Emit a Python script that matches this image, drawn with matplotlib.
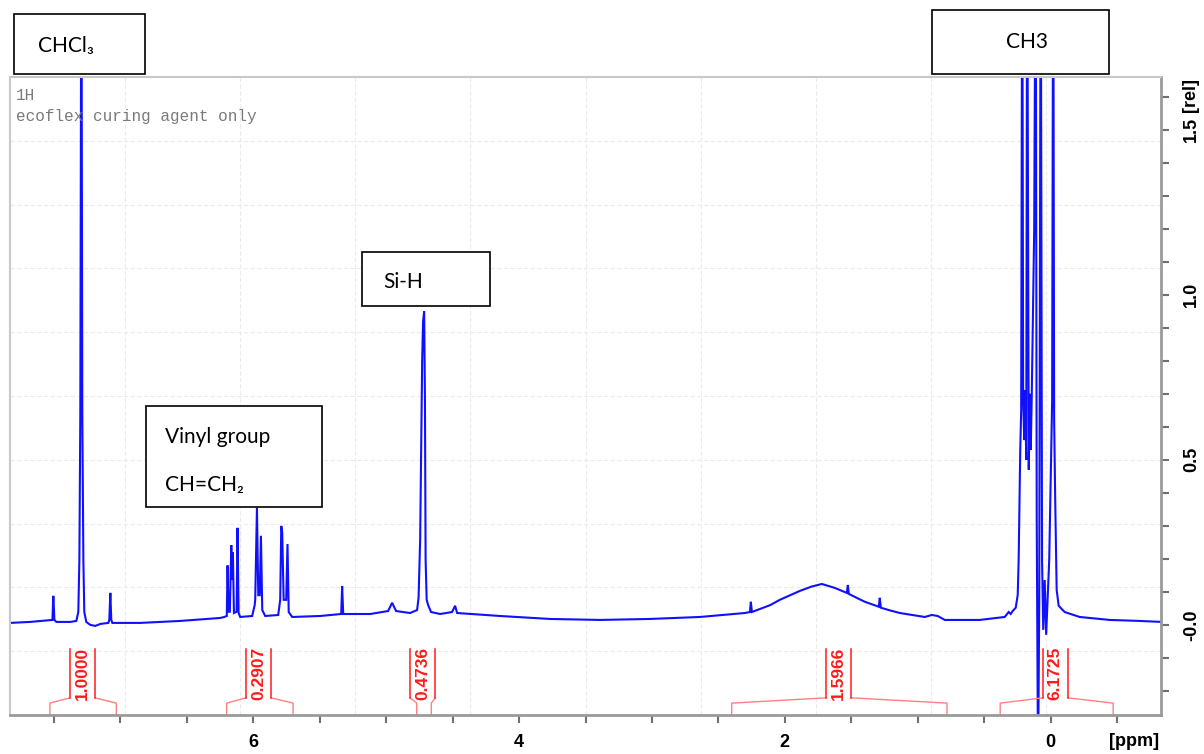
import matplotlib.pyplot as plt
from matplotlib.patches import Rectangle
from matplotlib.ticker import MultipleLocator, FixedLocator

# 1H spectrum trace (ppm / relative intensity)
ppm = [7.83, 7.68, 7.511, 7.504, 7.496, 7.481, 7.376, 7.331, 7.316, 7.308, 7.301,
       7.293, 7.286, 7.278, 7.271, 7.256, 7.226, 7.188, 7.150, 7.090, 7.083, 7.075,
       7.068, 7.060, 6.850, 6.549, 6.248,
       6.218, 6.199, 6.193, 6.186, 6.176, 6.165, 6.159, 6.153, 6.145, 6.125, 6.118,
       6.110, 6.098, 6.008, 5.989, 5.985, 5.972, 5.962, 5.951, 5.942, 5.932, 5.910,
       5.812, 5.797, 5.789, 5.782, 5.771, 5.752, 5.742, 5.733, 5.707,
       5.496, 5.338, 5.331, 5.323, 5.120, 4.985, 4.955, 4.925, 4.820,
       4.767, 4.756, 4.744, 4.737, 4.729, 4.722, 4.714, 4.708, 4.703, 4.695, 4.684,
       4.662, 4.594, 4.504, 4.481, 4.466, 4.143, 3.767, 3.391, 3.015, 2.639,
       2.301, 2.263, 2.256, 2.248, 2.188, 2.110, 2.038, 1.960, 1.887, 1.800, 1.722,
       1.624, 1.534, 1.526, 1.519, 1.460, 1.398, 1.293, 1.286, 1.278, 1.210, 1.135,
       0.947, 0.895, 0.850, 0.797, 0.534,
       0.346, 0.316, 0.301, 0.286, 0.263, 0.248, 0.241, 0.229, 0.222, 0.214, 0.207,
       0.199, 0.192, 0.184, 0.177, 0.165, 0.158, 0.150, 0.143, 0.132, 0.124, 0.113,
       0.105, 0.095, 0.086, 0.075, 0.065, 0.056, 0.045, 0.034, 0.023, 0.011, 0.000,
       -0.011, -0.019, -0.026, -0.034, -0.045, -0.060, -0.105, -0.218, -0.444,
       -0.669, -0.835]
intensity = [0.006, 0.009, 0.015, 0.088, 0.015, 0.009, 0.009, 0.012, 0.039, 0.197, 0.636,
             2.2, 0.636, 0.197, 0.039, 0.009, 0.000, -0.003, 0.003, 0.006, 0.015, 0.097,
             0.015, 0.006, 0.006, 0.012, 0.021,
             0.024, 0.027, 0.180, 0.040, 0.040, 0.242, 0.136, 0.220, 0.036, 0.040, 0.294,
             0.036, 0.024, 0.027, 0.060, 0.076, 0.355, 0.090, 0.090, 0.270, 0.045, 0.027,
             0.030, 0.076, 0.300, 0.280, 0.076, 0.076, 0.245, 0.039, 0.024,
             0.027, 0.033, 0.118, 0.033, 0.033, 0.042, 0.067, 0.042, 0.036,
             0.045, 0.082, 0.258, 0.515, 0.800, 0.920, 0.950, 0.680, 0.197, 0.076, 0.060,
             0.039, 0.033, 0.039, 0.058, 0.036, 0.027, 0.018, 0.015, 0.018, 0.024,
             0.036, 0.039, 0.070, 0.039, 0.048, 0.060, 0.076, 0.090, 0.103, 0.116, 0.124,
             0.112, 0.097, 0.121, 0.094, 0.082, 0.070, 0.055, 0.082, 0.052, 0.044, 0.036,
             0.024, 0.030, 0.027, 0.015, 0.015,
             0.024, 0.039, 0.033, 0.042, 0.052, 0.091, 0.197, 0.530, 0.650, 2.2, 0.680,
             0.560, 0.710, 0.500, 2.2, 0.470, 0.700, 0.530, 0.680, 0.980, 1.200, 2.2,
             0.320, -0.45, 0.076, 2.2, 0.197, -0.015, 0.136, -0.030, 0.076, 0.197, 0.440,
             0.680, 2.2, 0.620, 0.380, 0.106, 0.058, 0.039, 0.024, 0.015,
             0.012, 0.009]

# integrals: left / right limit, label centre, value
int_left = [7.53, 6.20, 4.77, 2.40, 0.38]
int_right = [7.03, 5.70, 4.66, 0.78, -0.47]
int_center = [7.285, 5.96, 4.725, 1.595, -0.035]
int_values = ["1.0000", "0.2907", "0.4736", "1.5966", "6.1725"]

xticks = [0, 2, 4, 6]
yticks = [0.0, 0.5, 1.0, 1.5]
ytick_labels = ["-0.0", "0.5", "1.0", "1.5"]

# assignment boxes (text, box in figure pixels left, top, right, bottom)
box_texts = ["CHCl\u2083", "CH3", "Si-H", "Vinyl group\n\nCH=CH\u2082"]
box_px = [(14, 14, 145, 74), (932, 10, 1109, 74), (362, 252, 490, 306), (146, 406, 322, 507)]
text_px = [(38, 46), (1006, 42), (383, 282), (165, 461)]

W, H = 1204, 754
blue = '#1010ff'
red = '#ff1a1a'

fig = plt.figure(figsize=(12.04, 7.54), dpi=100)
ax = fig.add_axes([10 / W, 1 - 715 / H, 1151 / W, 638 / H])

ax.plot(ppm, intensity, color=blue, lw=1.5, solid_joinstyle='miter')

ax.set_xlim(7.83, -0.83)
ax.set_ylim(-0.273, 1.66)

# 10 x 10 background grid (not tied to the ticks)
for k in range(1, 10):
    ax.plot([k / 10, k / 10], [0, 1], transform=ax.transAxes, color='#ebebeb',
            lw=0.8, ls=(0, (4, 2)), zorder=0)
    ax.plot([0, 1], [k / 10, k / 10], transform=ax.transAxes, color='#ebebeb',
            lw=0.8, ls=(0, (4, 2)), zorder=0)

# integral brackets
y_bot, y_foot, y_boxb, y_boxt = -0.273, -0.237, -0.221, -0.073
hw = 0.095
for lft, rgt, c, val in zip(int_left, int_right, int_center, int_values):
    ax.plot([lft, lft, c + hw], [y_bot, y_foot, y_boxb], color='#ff8080', lw=1.0)
    ax.plot([rgt, rgt, c - hw], [y_bot, y_foot, y_boxb], color='#ff8080', lw=1.0)
    ax.plot([c + hw, c + hw], [y_boxb, y_boxt], color=red, lw=1.1)
    ax.plot([c - hw, c - hw], [y_boxb, y_boxt], color=red, lw=1.1)
    ax.text(c, -0.148, val, rotation=90, ha='center', va='center',
            color=red, fontsize=12.5, fontweight='bold', family='Liberation Sans')

# axes styling
for side in ['left', 'top']:
    ax.spines[side].set_color('#c8c8c8')
    ax.spines[side].set_linewidth(1.5)
for side in ['right', 'bottom']:
    ax.spines[side].set_color('#9a9a9a')
    ax.spines[side].set_linewidth(2)

ax.xaxis.set_major_locator(FixedLocator(xticks))
ax.xaxis.set_minor_locator(MultipleLocator(0.5))
ax.set_xticklabels([str(t) for t in xticks])
ax.tick_params(axis='x', which='both', direction='out', length=6, width=1.5,
               color='#707070', pad=8)
for lab in ax.get_xticklabels():
    lab.set_fontsize(13)
    lab.set_fontweight('bold')
    lab.set_family('Liberation Sans')

ax.yaxis.tick_right()
ax.yaxis.set_major_locator(FixedLocator(yticks))
ax.yaxis.set_minor_locator(MultipleLocator(0.1))
ax.set_yticklabels(ytick_labels)
ax.tick_params(axis='y', which='both', direction='out', length=6, width=1.5,
               color='#707070', pad=10)
for lab in ax.get_yticklabels():
    lab.set_fontsize(13)
    lab.set_fontweight('bold')
    lab.set_family('Liberation Sans')
    lab.set_rotation(90)
    lab.set_va('center')

fig.text(1190 / W, 1 - 95 / H, "[rel]", rotation=90, ha='center', va='center',
         fontsize=13, fontweight='bold', family='Liberation Sans')
fig.text(1134 / W, 1 - 742 / H, "[ppm]", ha='center', va='center',
         fontsize=13, fontweight='bold', family='Liberation Sans')

# title lines
fig.text(16 / W, 1 - 95 / H, "1H", ha='left', va='center', color='#7a7a7a',
         fontsize=11.5, family='Liberation Mono')
fig.text(16 / W, 1 - 116 / H, "ecoflex curing agent only", ha='left', va='center',
         color='#7a7a7a', fontsize=11.5, family='Liberation Mono')

# assignment boxes
for txt, (l, t, r, b), (tx, ty) in zip(box_texts, box_px, text_px):
    fig.patches.append(Rectangle((l / W, 1 - b / H), (r - l) / W, (b - t) / H,
                                 transform=fig.transFigure, facecolor='white',
                                 edgecolor='black', lw=1.2, zorder=5))
    fig.text(tx / W, 1 - ty / H, txt, ha='left', va='center', fontsize=15,
             family=['Lato', 'DejaVu Sans'], zorder=6, linespacing=1.25)

fig.savefig('out.png', dpi=100)
